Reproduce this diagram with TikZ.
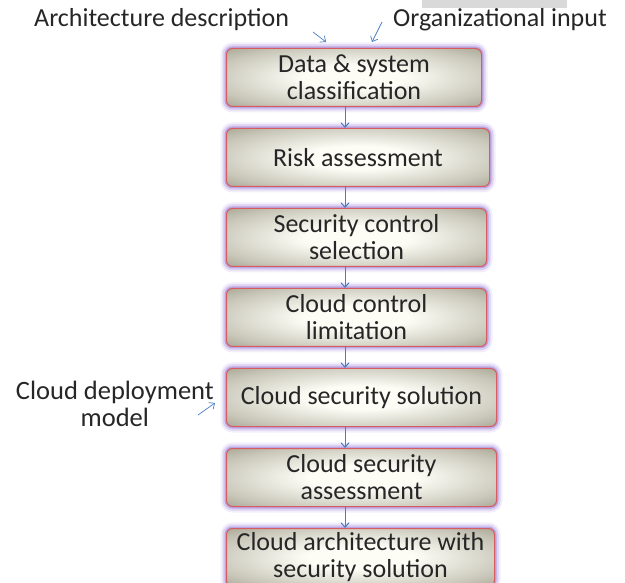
\documentclass[tikz,border=0pt]{standalone}
\usepackage{fontspec}
\setmainfont{Carlito}
\usetikzlibrary{positioning, arrows.meta, calc}

\definecolor{boxdark}{RGB}{122,118,94}
\definecolor{boxlight}{RGB}{253,253,246}
\colorlet{boxmid}{boxlight!60!boxdark}
\definecolor{boxedge}{RGB}{214,92,96}
\definecolor{glow}{RGB}{146,112,214}
\definecolor{flow}{RGB}{74,124,192}

\pgfdeclareradialshading{boxfill}{\pgfpoint{0bp}{0bp}}{%
  color(0bp)=(boxlight); color(10bp)=(boxlight); color(28bp)=(boxmid);
  color(48bp)=(boxdark); color(75bp)=(boxdark)}

\begin{document}
\begin{tikzpicture}[x=1pt, y=1pt,
  every node/.style={font=\fontsize{26}{27}\selectfont, text=black!85},
  arr/.style={-{Straight Barb[length=4.5pt, width=8pt]}, line width=1pt, flow},
  block/.style={rounded corners=6pt, minimum width=262pt, minimum height=58pt,
                align=center, inner sep=2pt, draw=boxedge, line width=1pt, shading=boxfill,
                preaction={draw=glow, line width=12pt, opacity=0.12},
                preaction={draw=glow, line width=8pt, opacity=0.22},
                preaction={draw=glow, line width=4pt, opacity=0.45}}
]
\useasboundingbox (0,0) rectangle (625,-583);

% ---- Strip at the top edge ----
\fill[gray!30] (422,0) rectangle (567,-8);

% ---- Process steps (top to bottom) ----
\node[block, minimum width=255pt, anchor=north west] (dsc) at (226,-48)
  {Data \& system\\classification};

\node[block, minimum width=263pt, below=21pt of dsc.south west, anchor=north west] (risk)
  {Risk assessment};

\node[block, minimum width=260pt, below=21pt of risk.south west, anchor=north west] (sel)
  {Security control\\selection};

\node[block, minimum width=260pt, below=21pt of sel.south west, anchor=north west] (lim)
  {Cloud control\\limitation};

\node[block, minimum width=270pt, below=21pt of lim.south west, anchor=north west] (sol)
  {Cloud security solution};

\node[block, minimum width=270pt, below=21pt of sol.south west, anchor=north west] (sas)
  {Cloud security\\assessment};

\node[block, minimum width=268pt, below=21pt of sas.south west, anchor=north west] (arch)
  {Cloud architecture with\\security solution};

% ---- Forward arrows ----
\coordinate (spine) at (345,0);
\draw[arr] (dsc.south -| spine) -- (risk.north -| spine);
\draw[arr] (risk.south -| spine) -- (sel.north -| spine);
\draw[arr] (sel.south -| spine) -- (lim.north -| spine);
\draw[arr] (lim.south -| spine) -- (sol.north -| spine);
\draw[arr] (sol.south -| spine) -- (sas.north -| spine);
\draw[arr] (sas.south -| spine) -- (arch.north -| spine);

% ---- Inputs ----
\node[anchor=base west, inner sep=0pt] (archdesc) at (34,-27) {Architecture description};
\node[anchor=base west, inner sep=0pt] (orginput) at (393,-27) {Organizational input};
\node[align=center, anchor=east, inner sep=0pt, font=\fontsize{26.5}{27}\selectfont] (deploy)
  at (214,-404) {Cloud deployment\\model};

\coordinate (archtail) at (313,-32);
\coordinate (archhead) at (326,-42);
\coordinate (orgtail) at (382,-22);
\coordinate (orghead) at (372,-42);
\coordinate (deptail) at (198,-415);
\coordinate (dephead) at (215,-403);

\draw[arr, line width=0.7pt] (archtail) -- (archhead);
\draw[arr, line width=0.7pt] (orgtail) -- (orghead);
\draw[arr, line width=0.7pt] (deptail) -- (dephead);

\end{tikzpicture}
\end{document}
